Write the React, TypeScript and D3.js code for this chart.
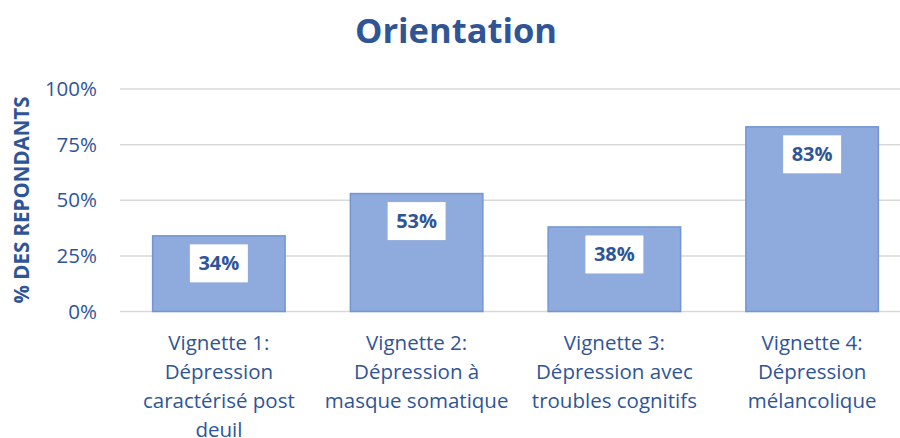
import React from "react";
import * as d3 from "d3";

const categories: string[][] = [
  ["Vignette 1:", "Dépression", "caractérisé post", "deuil"],
  ["Vignette 2:", "Dépression à", "masque somatique"],
  ["Vignette 3:", "Dépression avec", "troubles cognitifs"],
  ["Vignette 4:", "Dépression", "mélancolique"],
];
const values: number[] = [0.34, 0.53, 0.38, 0.83];
const yTicks: number[] = [0, 0.25, 0.5, 0.75, 1];
const title = "Orientation";
const yTitle = "% DES REPONDANTS";

const W = 900;
const H = 438;
const FONT = "'Open Sans', Lato, sans-serif";
const TEXT = "#2F5597";

export default function App() {
  const x = d3
    .scaleBand<number>()
    .domain(values.map((_, i) => i))
    .range([120, 911])
    .paddingInner(0.33)
    .paddingOuter(0.165);
  const y = d3.scaleLinear().domain([0, 1]).range([311.5, 89]);
  const fmt = d3.format(".0%");

  return (
    <svg width={W} height={H} style={{ display: "block", position: "absolute", left: 0, top: 0 }}>
      <rect width={W} height={H} fill="#fff" />
      <text x={456} y={43} textAnchor="middle" fontFamily={FONT} fontWeight={700} fontSize={34.5} fill={TEXT}>
        {title}
      </text>
      {yTicks.map((t) => (
        <g key={t}>
          <line x1={120} x2={911} y1={y(t)} y2={y(t)} stroke="#D9D9D9" strokeWidth={1.5} />
          <text x={97} y={y(t)} dy="0.35em" textAnchor="end" fontFamily={FONT} fontSize={20.5} fill={TEXT}>
            {fmt(t)}
          </text>
        </g>
      ))}
      <text
        transform={`translate(22,200) rotate(-90)`}
        textAnchor="middle"
        dy="0.35em"
        fontFamily={FONT}
        fontWeight={700}
        fontSize={20.5}
        fill={TEXT}
      >
        {yTitle}
      </text>
      {values.map((v, i) => {
        const bx = x(i)!;
        const bw = x.bandwidth();
        const cx = bx + bw / 2;
        return (
          <g key={i}>
            <rect x={bx} y={y(v)} width={bw} height={y(0) - y(v)} fill="#8FAADC" stroke="#7296D3" strokeWidth={1.5} />
            <rect x={cx - 29} y={y(v) + 8.5} width={58} height={38} fill="#fff" />
            <text x={cx} y={y(v) + 27.5} dy="0.35em" textAnchor="middle" fontFamily={FONT} fontWeight={700} fontSize={20} fill={TEXT}>
              {fmt(v)}
            </text>
            {categories[i].map((line, j) => (
              <text key={j} x={cx} y={343 + j * 29} dy="0.35em" textAnchor="middle" fontFamily={FONT} fontSize={20.5} fill={TEXT}>
                {line}
              </text>
            ))}
          </g>
        );
      })}
    </svg>
  );
}
